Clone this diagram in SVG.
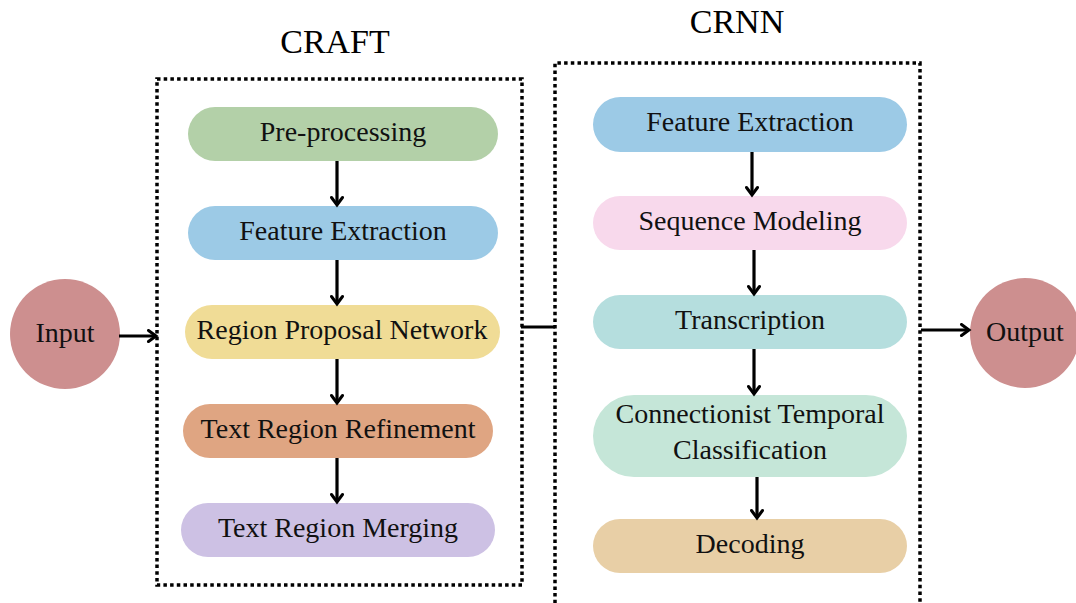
<svg xmlns="http://www.w3.org/2000/svg" width="1076" height="603" viewBox="0 0 1076 603">
  <defs>
    <marker id="chev" viewBox="0 0 14 14" refX="11.5" refY="7" markerWidth="14" markerHeight="14" markerUnits="userSpaceOnUse" orient="auto">
      <path d="M4,1.5 L11.5,7 L4,12.5" fill="none" stroke="#000" stroke-width="3" stroke-linecap="round" stroke-linejoin="miter"/>
    </marker>
    <style>
      .frame { fill: none; stroke: #000; stroke-width: 3.5; stroke-dasharray: 3.5 3.2; }
      .title { font-family: "Liberation Serif", "Times New Roman", serif; font-size: 34px; fill: #000; text-anchor: middle; }
      .lbl { font-family: "Liberation Serif", "Times New Roman", serif; font-size: 28px; fill: #111; text-anchor: middle; }
      .edge { fill: none; stroke: #000; stroke-width: 3.2; }
      .arrow { marker-end: url(#chev); }
    </style>
  </defs>
  <rect width="1076" height="603" fill="#fff"/>

  <!-- stage frames -->
  <g id="craft-frame">
    <rect class="frame" x="157" y="79" width="365" height="506"/>
    <text class="title" x="335" y="53">CRAFT</text>
  </g>
  <g id="crnn-frame">
    <path class="frame" d="M555,610 L555,63 L920,63 L920,610"/>
    <text class="title" x="737" y="33">CRNN</text>
  </g>

  <!-- endpoints -->
  <g id="input">
    <circle cx="65" cy="334" r="55" fill="#cd8f8f"/>
    <text class="lbl" x="65" y="342">Input</text>
  </g>
  <g id="output">
    <circle cx="1025" cy="333" r="55" fill="#cd8f8f"/>
    <text class="lbl" x="1025" y="341">Output</text>
  </g>

  <!-- CRAFT steps -->
  <g id="craft-preprocessing">
    <rect x="188" y="107" width="310" height="54" rx="27" fill="#b3d0a8"/>
    <text class="lbl" x="343" y="141">Pre-processing</text>
  </g>
  <g id="craft-feature-extraction">
    <rect x="188" y="206" width="310" height="54" rx="27" fill="#9ccae6"/>
    <text class="lbl" x="343" y="240">Feature Extraction</text>
  </g>
  <g id="craft-region-proposal">
    <rect x="185" y="305" width="315" height="54" rx="27" fill="#f0dc96"/>
    <text class="lbl" x="342" y="339">Region Proposal Network</text>
  </g>
  <g id="craft-region-refinement">
    <rect x="183" y="404" width="310" height="54" rx="27" fill="#dfa582"/>
    <text class="lbl" x="338" y="438">Text Region Refinement</text>
  </g>
  <g id="craft-region-merging">
    <rect x="181" y="503" width="314" height="54" rx="27" fill="#cdc1e4"/>
    <text class="lbl" x="338" y="537">Text Region Merging</text>
  </g>

  <!-- CRNN steps -->
  <g id="crnn-feature-extraction">
    <rect x="593" y="97" width="314" height="55" rx="27.5" fill="#9ccae6"/>
    <text class="lbl" x="750" y="131">Feature Extraction</text>
  </g>
  <g id="crnn-sequence-modeling">
    <rect x="593" y="196" width="314" height="54" rx="27" fill="#f8d9ec"/>
    <text class="lbl" x="750" y="230">Sequence Modeling</text>
  </g>
  <g id="crnn-transcription">
    <rect x="593" y="295" width="314" height="54" rx="27" fill="#b5dede"/>
    <text class="lbl" x="750" y="329">Transcription</text>
  </g>
  <g id="crnn-ctc">
    <rect x="593" y="395" width="314" height="82" rx="41" fill="#c5e6d8"/>
    <text class="lbl" x="750" y="423">Connectionist Temporal</text>
    <text class="lbl" x="750" y="459">Classification</text>
  </g>
  <g id="crnn-decoding">
    <rect x="593" y="519" width="314" height="54" rx="27" fill="#e8cfa6"/>
    <text class="lbl" x="750" y="553">Decoding</text>
  </g>

  <!-- connectors -->
  <g id="connectors">
    <line class="edge arrow" x1="119" y1="336" x2="156" y2="336"/>
    <line class="edge" x1="521" y1="327" x2="555" y2="327"/>
    <line class="edge arrow" x1="921" y1="330" x2="969" y2="330"/>

    <line class="edge arrow" x1="337" y1="161" x2="337" y2="205"/>
    <line class="edge arrow" x1="337" y1="260" x2="337" y2="304"/>
    <line class="edge arrow" x1="337" y1="359" x2="337" y2="403"/>
    <line class="edge arrow" x1="337" y1="458" x2="337" y2="502"/>

    <line class="edge arrow" x1="752" y1="152" x2="752" y2="195"/>
    <line class="edge arrow" x1="754" y1="250" x2="754" y2="294"/>
    <line class="edge arrow" x1="754" y1="349" x2="754" y2="394"/>
    <line class="edge arrow" x1="757" y1="477" x2="757" y2="518"/>
  </g>
</svg>
